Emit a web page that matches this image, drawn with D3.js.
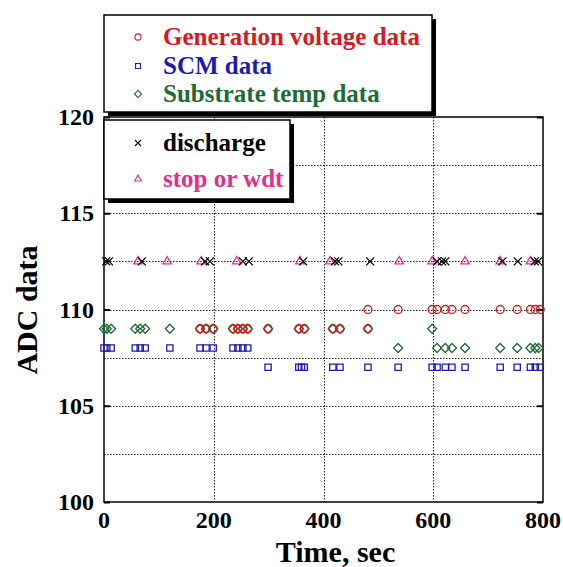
<!DOCTYPE html>
<html>
<head>
<meta charset="utf-8">
<script src="https://cdn.jsdelivr.net/npm/d3@7"></script>
<style>
  body { margin: 0; background: #fff; }
  text { font-family: "Liberation Serif", "Times New Roman", serif; font-weight: bold; }
</style>
</head>
<body>
<svg id="chart" width="563" height="567"></svg>
<script>
// data (time in sec, ADC value)
var genTime  = [175, 186, 199, 235, 244, 253, 262, 299, 355, 365, 417, 430, 481, 481, 536, 598, 607, 622, 634, 658, 722, 753, 777, 786, 795];
var genValue = [109, 109, 109, 109, 109, 109, 109, 109, 109, 109, 109, 109, 109, 110, 110, 110, 110, 110, 110, 110, 110, 110, 110, 110, 110];

var scmTime  = [0, 5, 13, 57, 66, 75, 120, 175, 186, 199, 235, 244, 253, 262, 299, 355, 360, 365, 417, 430, 481, 536, 598, 607, 622, 634, 658, 722, 753, 777, 786, 795];
var scmValue = [108, 108, 108, 108, 108, 108, 108, 108, 108, 108, 108, 108, 108, 108, 107, 107, 107, 107, 107, 107, 107, 107, 107, 107, 107, 107, 107, 107, 107, 107, 107, 107];

var subTime  = [0, 5, 13, 57, 66, 75, 120, 175, 186, 199, 235, 244, 253, 262, 299, 355, 365, 417, 430, 481, 536, 598, 607, 622, 634, 658, 722, 753, 777, 786, 792];
var subValue = [109, 109, 109, 109, 109, 109, 109, 109, 109, 109, 109, 109, 109, 109, 109, 109, 109, 109, 109, 109, 108, 109, 108, 108, 108, 108, 108, 108, 108, 108, 108];

var disTime  = [4, 9, 69, 184, 193, 253, 264, 363, 421, 427, 485, 607, 616, 622, 726, 754, 785, 791];
var disValue = [112.5, 112.5, 112.5, 112.5, 112.5, 112.5, 112.5, 112.5, 112.5, 112.5, 112.5, 112.5, 112.5, 112.5, 112.5, 112.5, 112.5, 112.5];

var stopTime  = [62, 115, 177, 242, 357, 412, 538, 598, 658, 722, 777];
var stopValue = [112.5, 112.5, 112.5, 112.5, 112.5, 112.5, 112.5, 112.5, 112.5, 112.5, 112.5];

var xTicks = [0, 200, 400, 600, 800];
var yTicks = [100, 105, 110, 115, 120];
var yGrid  = [102.5, 105, 107.5, 110, 112.5, 115, 117.5];

var svg = d3.select("#chart");
var pLeft = 104, pRight = 543, pTop = 117, pBottom = 502;

var x = d3.scaleLinear().domain([0, 800]).range([pLeft, pRight]);
var y = d3.scaleLinear().domain([100, 120]).range([pBottom, pTop]);

var red = "#d41c1c", blue = "#1c1cb4", green = "#1d6b35", pink = "#e0308c";

// grid, dotted
var grid = svg.append("g").attr("stroke", "#222").attr("stroke-width", 1).attr("stroke-dasharray", "1.5,1.5");
grid.selectAll(".gx").data([200, 400, 600]).enter().append("line")
    .attr("x1", function(d) { return Math.round(x(d)) + 0.5; })
    .attr("x2", function(d) { return Math.round(x(d)) + 0.5; })
    .attr("y1", pTop).attr("y2", pBottom);
grid.selectAll(".gy").data(yGrid).enter().append("line")
    .attr("x1", pLeft).attr("x2", pRight)
    .attr("y1", function(d) { return Math.round(y(d)) + 0.5; })
    .attr("y2", function(d) { return Math.round(y(d)) + 0.5; });

// axes: ticks inside on left and right
var yl = svg.append("g").attr("transform", "translate(" + pLeft + ",0)")
    .call(d3.axisRight(y).tickValues(yTicks).tickSize(6).tickFormat(""));
var yr = svg.append("g").attr("transform", "translate(" + pRight + ",0)")
    .call(d3.axisLeft(y).tickValues(yTicks).tickSize(6).tickFormat(""));
[yl, yr].forEach(function(g) {
  g.select(".domain").remove();
  g.selectAll("line").attr("stroke", "#000").attr("stroke-width", 2);
});

svg.append("rect").attr("x", pLeft).attr("y", pTop)
    .attr("width", pRight - pLeft).attr("height", pBottom - pTop)
    .attr("fill", "none").attr("stroke", "#000").attr("stroke-width", 1.5);

// tick labels
svg.selectAll(".yl").data(yTicks).enter().append("text")
    .attr("x", pLeft - 10).attr("y", function(d) { return y(d) + 8; })
    .attr("text-anchor", "end").attr("font-size", 24).text(function(d) { return d; });
svg.selectAll(".xl").data(xTicks).enter().append("text")
    .attr("x", function(d) { return x(d); }).attr("y", pBottom + 26)
    .attr("text-anchor", "middle").attr("font-size", 24).text(function(d) { return d; });

svg.append("text").attr("x", (pLeft + pRight) / 2 + 12).attr("y", 562)
    .attr("text-anchor", "middle").attr("font-size", 30).text("Time, sec");
svg.append("text").attr("transform", "translate(37,310) rotate(-90)")
    .attr("text-anchor", "middle").attr("font-size", 30).text("ADC data");

// markers
function sym(type, size) { return d3.symbol().type(type).size(size)(); }
var crossPath = "M-4,-4L4,4M-4,4L4,-4";

function pts(times, values) {
  return times.map(function(t, i) { return [t, values[i]]; });
}

function drawSeries(data, path, color) {
  svg.append("g").selectAll("path").data(data).enter().append("path")
      .attr("transform", function(d) { return "translate(" + x(d[0]) + "," + y(d[1]) + ")"; })
      .attr("d", path).attr("fill", "none").attr("stroke", color).attr("stroke-width", 1.3);
}

drawSeries(pts(subTime, subValue), sym(d3.symbolDiamond2, 52), green);
drawSeries(pts(scmTime, scmValue), sym(d3.symbolSquare2, 50), blue);
drawSeries(pts(genTime, genValue), sym(d3.symbolCircle, 50), red);
drawSeries(pts(stopTime, stopValue), sym(d3.symbolTriangle2, 52), pink);
drawSeries(pts(disTime, disValue), crossPath, "#000");

// legends
function legendBox(x0, y0, w, h, items) {
  var g = svg.append("g");
  g.append("rect").attr("x", x0 + 4).attr("y", y0 + 4).attr("width", w).attr("height", h).attr("fill", "#000");
  g.append("rect").attr("x", x0).attr("y", y0).attr("width", w).attr("height", h)
      .attr("fill", "#fff").attr("stroke", "#000").attr("stroke-width", 1.5);
  items.forEach(function(it) {
    g.append("path").attr("transform", "translate(" + (x0 + 34) + "," + it.y + ")")
        .attr("d", it.path).attr("fill", "none").attr("stroke", it.color).attr("stroke-width", 1.1);
    g.append("text").attr("x", x0 + 59).attr("y", it.y + 8)
        .attr("font-size", 25).attr("fill", it.color).text(it.label);
  });
}

legendBox(104, 15, 328, 97, [
  {y: 37, path: sym(d3.symbolCircle, 30), color: red, label: "Generation voltage data"},
  {y: 66, path: sym(d3.symbolSquare2, 30), color: blue, label: "SCM data"},
  {y: 94, path: sym(d3.symbolDiamond2, 32), color: green, label: "Substrate temp data"}
]);
legendBox(104, 120, 186, 79, [
  {y: 143, path: "M-3,-3L3,3M-3,3L3,-3", color: "#000", label: "discharge"},
  {y: 179, path: sym(d3.symbolTriangle2, 32), color: pink, label: "stop or wdt"}
]);
</script>
</body>
</html>
